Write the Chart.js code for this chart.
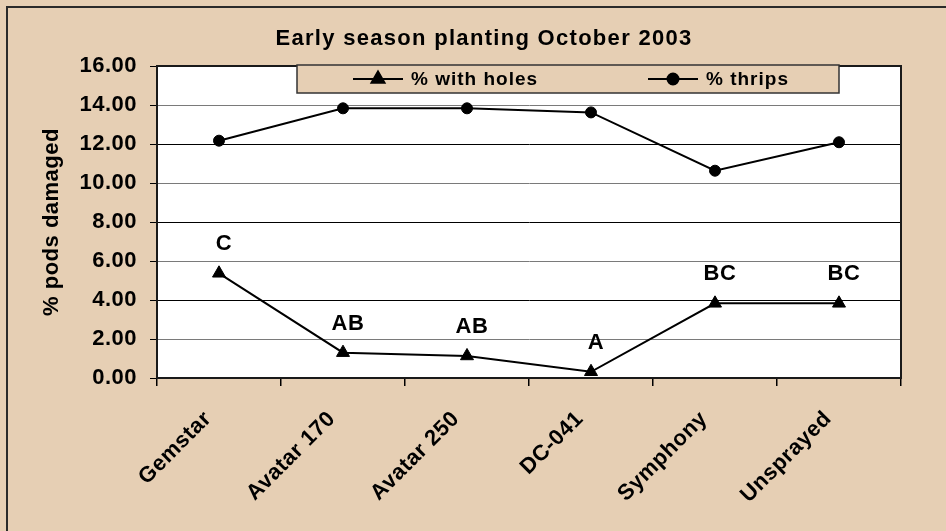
<!DOCTYPE html>
<html><head><meta charset="utf-8">
<script src="https://cdn.jsdelivr.net/npm/chart.js@4.4.0/dist/chart.umd.min.js"></script>
<style>html,body{margin:0;padding:0;background:#E6CFB4;overflow:hidden}#wrap{width:946px;height:531px}</style>
</head><body><div id="wrap"><canvas id="c" width="946" height="531"></canvas></div>
<script>
const categories = ['Gemstar', 'Avatar 170', 'Avatar 250', 'DC-041', 'Symphony', 'Unsprayed'];
const withHoles = [5.37, 1.30, 1.13, 0.32, 3.83, 3.83];
const thrips = [12.17, 13.83, 13.83, 13.62, 10.63, 12.09];
const significance = ['C', 'AB', 'AB', 'A', 'BC', 'BC'];
const yMin = 0, yMax = 16, yStep = 2;
const titleText = 'Early season planting October 2003';
const yTitle = '% pods damaged';
const seriesNames = ['% with holes', '% thrips'];

const FONT = "'Liberation Sans', Arial, sans-serif";
const BG = '#E6CFB4';

const decor = {
  id: 'decor',
  beforeDraw(chart) {
    const ctx = chart.ctx, a = chart.chartArea;
    ctx.save();
    ctx.fillStyle = BG;
    ctx.fillRect(0, 0, chart.width, chart.height);
    ctx.strokeStyle = '#2a2a2a';
    ctx.lineWidth = 2;
    ctx.strokeRect(7, 7, chart.width + 20, chart.height + 20);
    ctx.fillStyle = '#fff';
    ctx.fillRect(a.left, a.top, a.right - a.left, a.bottom - a.top);
    ctx.restore();
    ctx.letterSpacing = '0.5px';
  },
  beforeDatasetsDraw(chart) {
    const ctx = chart.ctx, a = chart.chartArea;
    ctx.save();
    ctx.strokeStyle = '#1a1a1a';
    ctx.lineWidth = 2;
    ctx.strokeRect(a.left, a.top, a.right - a.left, a.bottom - a.top);
    ctx.restore();
  },
  afterDatasetsDraw(chart) {
    const ctx = chart.ctx;
    const meta = chart.getDatasetMeta(0);
    ctx.save();
    ctx.letterSpacing = '0.5px';
    ctx.font = 'bold 22px ' + FONT;
    ctx.fillStyle = '#000';
    ctx.textAlign = 'center';
    ctx.textBaseline = 'middle';
    meta.data.forEach((pt, i) => {
      ctx.fillText(significance[i], pt.x + 5, pt.y - 29);
    });
    ctx.restore();
  },
  afterDraw(chart) {
    const ctx = chart.ctx;
    ctx.save();
    ctx.letterSpacing = '1.3px';
    ctx.font = 'bold 22px ' + FONT;
    ctx.fillStyle = '#000';
    ctx.textAlign = 'center';
    ctx.textBaseline = 'middle';
    ctx.fillText(titleText, 484, 39);
    const bx = 297, by = 65, bw = 542, bh = 28;
    ctx.fillStyle = BG;
    ctx.fillRect(bx, by, bw, bh);
    ctx.strokeStyle = '#333';
    ctx.lineWidth = 1.5;
    ctx.strokeRect(bx, by, bw, bh);
    const starts = [353, 648];
    const cy = by + bh / 2;
    chart.data.datasets.forEach((ds, i) => {
      const x0 = starts[i];
      ctx.strokeStyle = '#000';
      ctx.lineWidth = 2;
      ctx.beginPath();
      ctx.moveTo(x0, cy);
      ctx.lineTo(x0 + 50, cy);
      ctx.stroke();
      ctx.fillStyle = '#000';
      Chart.helpers.drawPoint(ctx, {pointStyle: ds.pointStyle, radius: ds.pointRadius, borderWidth: 1, rotation: 0}, x0 + 25, cy);
      ctx.letterSpacing = '1px';
      ctx.font = 'bold 19px ' + FONT;
      ctx.textAlign = 'left';
      ctx.textBaseline = 'middle';
      ctx.fillText(ds.label, x0 + 58, cy + 1);
    });
    ctx.restore();
  }
};

new Chart(document.getElementById('c'), {
  type: 'line',
  data: {
    labels: categories,
    datasets: [
      {label: seriesNames[0], data: withHoles, borderColor: '#000', backgroundColor: '#000',
       borderWidth: 2, pointStyle: 'triangle', pointRadius: 7.5, pointBorderWidth: 1, tension: 0},
      {label: seriesNames[1], data: thrips, borderColor: '#000', backgroundColor: '#000',
       borderWidth: 2, pointStyle: 'circle', pointRadius: 5.5, pointBorderWidth: 1, tension: 0}
    ]
  },
  options: {
    responsive: false,
    animation: false,
    devicePixelRatio: 1,
    layout: {padding: {left: 0, right: 45, top: 66, bottom: 0}},
    plugins: {legend: {display: false}, title: {display: false}, tooltip: {enabled: false}},
    scales: {
      x: {
        type: 'category',
        offset: true,
        grid: {display: true, drawOnChartArea: false, drawTicks: true, tickLength: 8, color: '#000', offset: true, lineWidth: 1.5},
        border: {display: true, color: '#000', width: 2},
        ticks: {autoSkip: false, minRotation: 45, maxRotation: 45, padding: 20, labelOffset: -11,
                color: '#000', font: {family: FONT, size: 22, weight: 'bold'}},
        afterFit(s) { s.height = 153; }
      },
      y: {
        min: yMin, max: yMax,
        ticks: {stepSize: yStep, padding: 13, color: '#000', font: {family: FONT, size: 22, weight: 'bold'},
                callback: v => Number(v).toFixed(2)},
        grid: {color: c => ([2, 6, 10, 14].includes(c.tick && c.tick.value) ? '#7a7a7a' : '#000'),
               tickColor: '#000', tickLength: 7, lineWidth: 1},
        border: {display: true, color: '#000', width: 2},
        title: {display: true, text: yTitle, color: '#000', font: {family: FONT, size: 22, weight: 'bold'},
                padding: {top: 39, bottom: 0}},
        afterFit(s) { s.width = 157; }
      }
    }
  },
  plugins: [decor]
});
</script>
</body></html>
